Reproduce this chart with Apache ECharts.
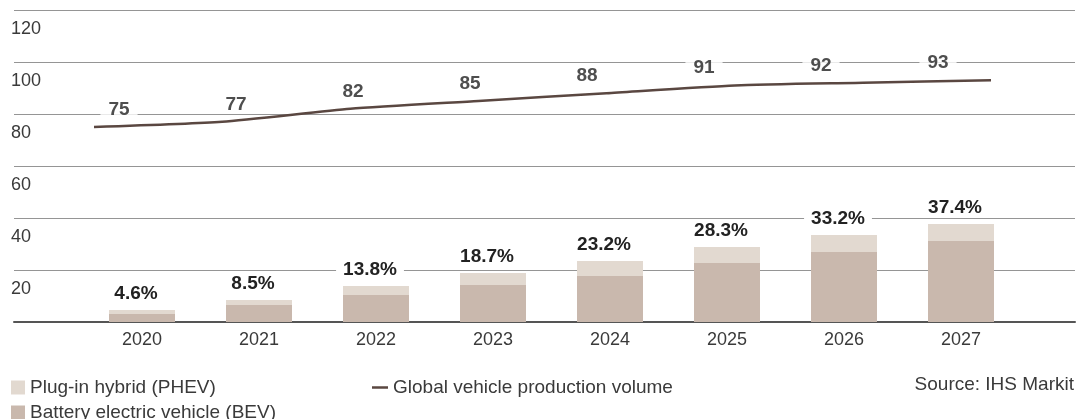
<!DOCTYPE html>
<html>
<head>
<meta charset="utf-8">
<script src="https://cdn.jsdelivr.net/npm/echarts@6/dist/echarts.min.js"></script>
<style>
html,body{margin:0;padding:0;background:#fff;}
#chart{width:1076px;height:419px;}
</style>
</head>
<body>
<div id="chart"></div>
<script>
const years = ['2020', '2021', '2022', '2023', '2024', '2025', '2026', '2027'];
const bevValues = [3.1, 6.5, 10.4, 14.2, 17.7, 22.7, 26.9, 31.2];
const phevValues = [1.5, 2.0, 3.4, 4.6, 5.8, 6.1, 6.6, 6.5];
const shareLabels = ['4.6%', '8.5%', '13.8%', '18.7%', '23.2%', '28.3%', '33.2%', '37.4%'];
const productionValues = [75, 77, 82, 85, 88, 91, 92, 93];
const yMin = 0, yMax = 120, yInterval = 20;

const FONT = "'Liberation Sans', Arial, Helvetica, sans-serif";
const TEXT = '#3a3a3a';
const BOLD = '#222222';
const C_PHEV = '#e2d9d0';
const C_BEV = '#c9b8ad';
const C_LINE = '#5a4741';
const GRID_COLOR = '#959595';

const chart = echarts.init(document.getElementById('chart'), null, {renderer: 'canvas'});

const legendText = {color: TEXT, fontSize: 19, fontFamily: FONT, lineHeight: 14, padding: [0, 0, 0, 0]};

const option = {
  animation: false,
  textStyle: {fontFamily: FONT},
  grid: [
    {left: 14, right: 1, top: 10, bottom: 97},
    {left: 83.5, right: 56.5, top: 10, bottom: 97},
    {left: 94, right: 85, top: 10, bottom: 97}
  ],
  xAxis: [
    {gridIndex: 0, type: 'value', min: 0, max: 1, show: true,
      axisLine: {show: true, lineStyle: {color: '#555', width: 2}},
      axisTick: {show: false}, axisLabel: {show: false}, splitLine: {show: false}},
    {gridIndex: 1, type: 'category', data: years, boundaryGap: true,
      axisLine: {show: false}, axisTick: {show: false},
      axisLabel: {color: TEXT, fontSize: 18, fontFamily: FONT, margin: 9}},
    {gridIndex: 2, type: 'category', data: years, boundaryGap: false, show: false}
  ],
  yAxis: [
    {gridIndex: 0, type: 'value', min: yMin, max: yMax, interval: yInterval,
      axisLine: {show: false}, axisTick: {show: false},
      axisLabel: {show: true, showMinLabel: false, align: 'left', verticalAlign: 'top',
        padding: [10, 0, 0, 0], margin: 3, color: TEXT, fontSize: 18, fontFamily: FONT},
      splitLine: {show: true, lineStyle: {color: GRID_COLOR, width: 1.2}}},
    {gridIndex: 1, type: 'value', min: yMin, max: yMax, interval: yInterval, show: false,
      splitLine: {show: false}},
    {gridIndex: 2, type: 'value', min: yMin, max: yMax, interval: yInterval, show: false,
      splitLine: {show: false}}
  ],
  legend: [
    {left: 11, top: 378, padding: 0, itemWidth: 14, itemHeight: 14, icon: 'rect',
      data: ['Plug-in hybrid (PHEV)'], textStyle: legendText},
    {left: 11, top: 403, padding: 0, itemWidth: 14, itemHeight: 14, icon: 'rect',
      data: ['Battery electric vehicle (BEV)'], textStyle: legendText},
    {left: 372, top: 378, padding: 0, itemWidth: 16, itemHeight: 2.5, icon: 'rect',
      data: ['Global vehicle production volume'], textStyle: legendText}
  ],
  graphic: [
    {type: 'text', right: 2, top: 375,
      style: {text: 'Source: IHS Markit', fill: TEXT, font: "19px 'Liberation Sans', Arial, sans-serif"}}
  ],
  series: [
    {name: 'Battery electric vehicle (BEV)', type: 'bar', xAxisIndex: 1, yAxisIndex: 1,
      stack: 'ev', data: bevValues, barWidth: 66, itemStyle: {color: C_BEV}, z: 2},
    {name: 'Plug-in hybrid (PHEV)', type: 'bar', xAxisIndex: 1, yAxisIndex: 1,
      stack: 'ev', data: phevValues, barWidth: 66, itemStyle: {color: C_PHEV}, z: 2,
      label: {show: true, position: 'top', distance: 7, offset: [-6, 0],
        formatter: p => shareLabels[p.dataIndex],
        color: BOLD, fontWeight: 'bold', fontSize: 19, fontFamily: FONT,
        backgroundColor: '#fff', padding: [0, 7]}},
    {name: 'Global vehicle production volume', type: 'line', xAxisIndex: 2, yAxisIndex: 2,
      data: productionValues, smooth: 0.2, symbol: 'none', z: 6,
      lineStyle: {color: C_LINE, width: 2.5}, itemStyle: {color: C_LINE}},
    {name: 'productionLabels', type: 'scatter', xAxisIndex: 1, yAxisIndex: 1,
      data: productionValues, symbolSize: 0, z: 4, silent: true,
      label: {show: true, position: 'top', distance: 8, offset: [-23, 0],
        formatter: p => String(p.value),
        color: BOLD, fontWeight: 'bold', fontSize: 19, fontFamily: FONT,
        backgroundColor: '#fff', padding: [0, 8]}}
  ]
};
chart.setOption(option);
</script>
</body>
</html>
